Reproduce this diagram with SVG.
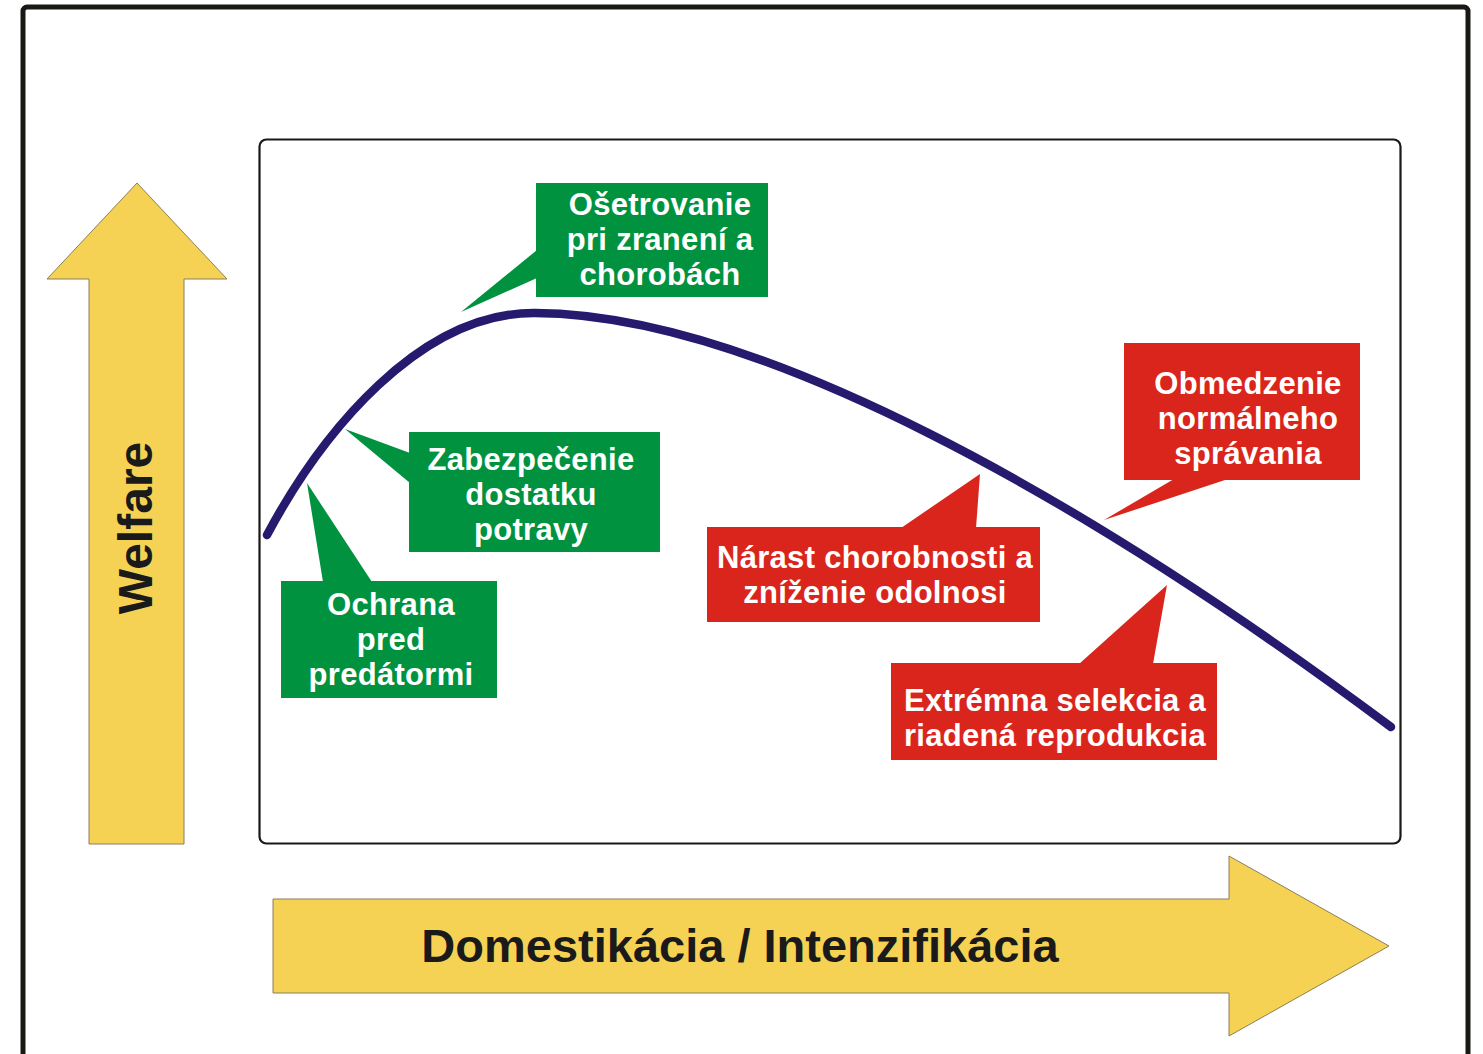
<svg xmlns="http://www.w3.org/2000/svg" width="1483" height="1054" viewBox="0 0 1483 1054">
<style>
.arrow{fill:#f5d254;stroke:#8c7f5a;stroke-width:1}
.g{fill:#00923f}
.r{fill:#da251d}
.t{font-family:"Liberation Sans",Arial,sans-serif;font-weight:bold;font-size:31px;fill:#ffffff;text-anchor:middle;letter-spacing:0.3px}
.big{font-family:"Liberation Sans",Arial,sans-serif;font-weight:bold;fill:#1a1a1a;text-anchor:middle}
</style>
<rect x="0" y="0" width="1483" height="1054" fill="#ffffff"/>
<rect x="23" y="7" width="1445" height="1070" rx="4" fill="none" stroke="#1a1814" stroke-width="5"/>
<rect x="259.5" y="139.5" width="1141" height="704" rx="7" fill="none" stroke="#1a1814" stroke-width="2.2"/>

<g id="welfare-arrow">
<polygon class="arrow" points="137,183 227,279 184,279 184,844 89,844 89,279 47,279"/>
<text class="big" font-size="48" transform="translate(152,528) rotate(-90)">Welfare</text>
</g>
<g id="domestication-arrow">
<polygon class="arrow" points="273,899 1229,899 1229,856 1389,946 1229,1036 1229,993 273,993"/>
<text class="big" font-size="47" x="740" y="962">Domestikácia / Intenzifikácia</text>
</g>

<g id="connectors">
<path d="M267,535 C322,432 420,312 535,313 C755,314 1080,495 1391,727" fill="none" stroke="#251a6e" stroke-width="8.5" stroke-linecap="round"/>
</g>

<g id="osetrovanie">
<polygon class="g" points="461,312 537,250 537,278"/>
<rect class="g" x="536" y="183" width="232" height="114"/>
<text class="t" x="660" y="215">Ošetrovanie</text>
<text class="t" x="660" y="250">pri zranení a</text>
<text class="t" x="660" y="285">chorobách</text>
</g>
<g id="zabezpecenie">
<polygon class="g" points="345,429 410,453 410,483"/>
<rect class="g" x="409" y="432" width="251" height="120"/>
<text class="t" x="531" y="470">Zabezpečenie</text>
<text class="t" x="531" y="505">dostatku</text>
<text class="t" x="531" y="540">potravy</text>
</g>
<g id="ochrana">
<polygon class="g" points="307,483 323,582 372,582"/>
<rect class="g" x="281" y="581" width="216" height="117"/>
<text class="t" x="391" y="615">Ochrana</text>
<text class="t" x="391" y="650">pred</text>
<text class="t" x="391" y="685">predátormi</text>
</g>
<g id="obmedzenie">
<polygon class="r" points="1104,520 1174,479 1228,479"/>
<rect class="r" x="1124" y="343" width="236" height="137"/>
<text class="t" x="1248" y="394">Obmedzenie</text>
<text class="t" x="1248" y="429">normálneho</text>
<text class="t" x="1248" y="464">správania</text>
</g>
<g id="narast">
<polygon class="r" points="980,474 901,528 976,528"/>
<rect class="r" x="707" y="527" width="333" height="95"/>
<text class="t" x="875" y="568">Nárast chorobnosti a</text>
<text class="t" x="875" y="603">zníženie odolnosi</text>
</g>
<g id="extremna">
<polygon class="r" points="1167,585 1079,664 1153,664"/>
<rect class="r" x="891" y="663" width="326" height="97"/>
<text class="t" x="1055" y="711">Extrémna selekcia a</text>
<text class="t" x="1055" y="746">riadená reprodukcia</text>
</g>
</svg>
